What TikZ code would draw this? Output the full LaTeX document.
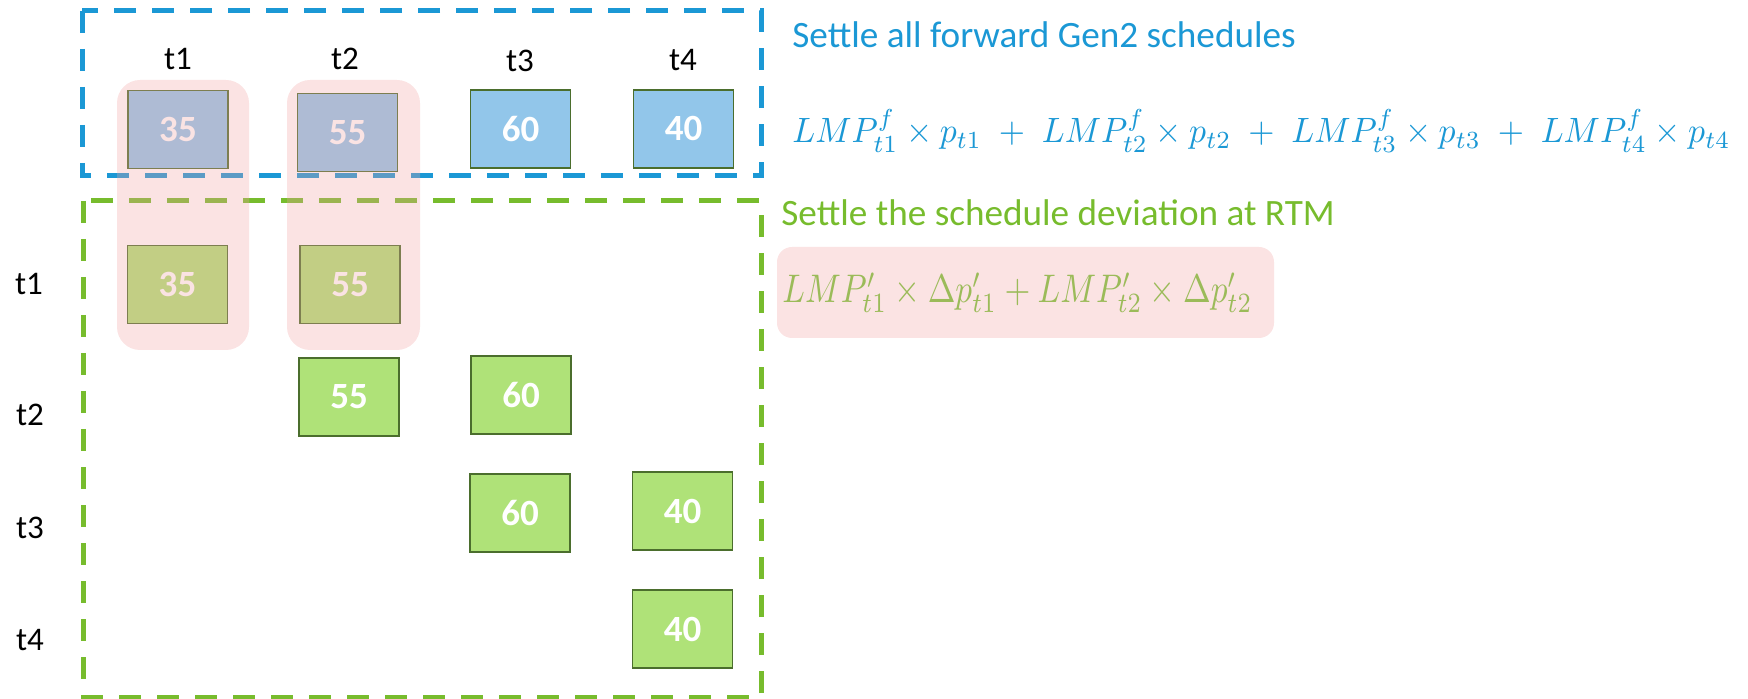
\documentclass[tikz,border=0pt]{standalone}
\usepackage{fontspec}
\setmainfont{Carlito}
\usepackage{amsmath}
\usepackage{graphicx}
\definecolor{pblue}{RGB}{27,152,213}
\definecolor{pgreen}{RGB}{119,188,45}
\definecolor{olivetxt}{RGB}{155,187,89}
\definecolor{bluefill}{RGB}{146,198,234}
\definecolor{greenfill}{RGB}{175,226,120}
\definecolor{boxline}{RGB}{75,110,45}
\definecolor{pinkov}{RGB}{241,163,163}
\definecolor{pinkbg}{RGB}{251,227,227}
\begin{document}
\begin{tikzpicture}[x=0.5pt,y=-0.5pt,
 frame/.style={dash pattern=on 11pt off 8pt, line width=2.5pt},
 cell/.style={draw=boxline, line width=0.6pt, minimum width=50pt, minimum height=39pt, inner sep=0pt, text=white, font=\fontsize{18.5}{20}\selectfont\bfseries},
 bcell/.style={cell, fill=bluefill},
 gcell/.style={cell, fill=greenfill},
 lab/.style={font=\fontsize{16.5}{18}\selectfont, anchor=base, inner sep=0pt},
 ttl/.style={font=\fontsize{18.6}{20}\selectfont, anchor=base west, inner sep=0pt},
 hl/.style={fill=pinkov, fill opacity=0.3, rounded corners=11.5pt}
]
\useasboundingbox (0,0) rectangle (1748,699);
% frames
\draw[frame, draw=pblue] (82,11) rectangle (761,176);
\draw[frame, draw=pgreen] (83,201) rectangle (761,697);
% column labels
\node[lab] (c1) at (178,70) {t1};
\node[lab] (c2) at (345,70) {t2};
\node[lab] (c3) at (520,72) {t3};
\node[lab] (c4) at (683,71) {t4};
% row labels
\node[lab] (r1) at (29,295) {t1};
\node[lab] (r2) at (30,425) {t2};
\node[lab] (r3) at (30,538) {t3};
\node[lab] (r4) at (30,650) {t4};
% forward boxes
\node[bcell] (f1) at (178,129.5) {35};
\node[bcell] (f2) at (347.5,132.5) {55};
\node[bcell] (f3) at (520.5,129) {60};
\node[bcell] (f4) at (683.5,129) {40};
% RTM boxes
\node[gcell] (g11) at (177.5,284.5) {35};
\node[gcell] (g12) at (350,284.5) {55};
\node[gcell] (g22) at (349,397) {55};
\node[gcell] (g23) at (521,395) {60};
\node[gcell] (g33) at (520,513) {60};
\node[gcell] (g34) at (682.5,511) {40};
\node[gcell] (g44) at (682.5,629) {40};
% highlight overlays
\fill[hl] (117,80) rectangle (249,350);
\fill[hl] (287,80) rectangle (420,350);
% texts
\node[ttl, text=pblue] (t1) at (792,48) {Settle all forward Gen2 schedules};
\node[anchor=base west, inner sep=0pt, text=pblue] (m1) at (792,143)
 {\resizebox{469pt}{17pt}{$LMP^{f}_{t1}\times p_{t1}\;+\;LMP^{f}_{t2}\times p_{t2}\;+\;LMP^{f}_{t3}\times p_{t3}\;+\;LMP^{f}_{t4}\times p_{t4}$}};
\node[ttl, text=pgreen] (t2) at (781,226) {Settle the schedule deviation at RTM};
\fill[pinkbg, rounded corners=7.5pt] (777,247) rectangle (1274,338);
\node[anchor=base west, inner sep=0pt, text=olivetxt] (m2) at (782,303)
 {\resizebox{235pt}{15pt}{$LMP'_{t1}\times\Delta p'_{t1}+LMP'_{t2}\times\Delta p'_{t2}$}};
\end{tikzpicture}
\end{document}
